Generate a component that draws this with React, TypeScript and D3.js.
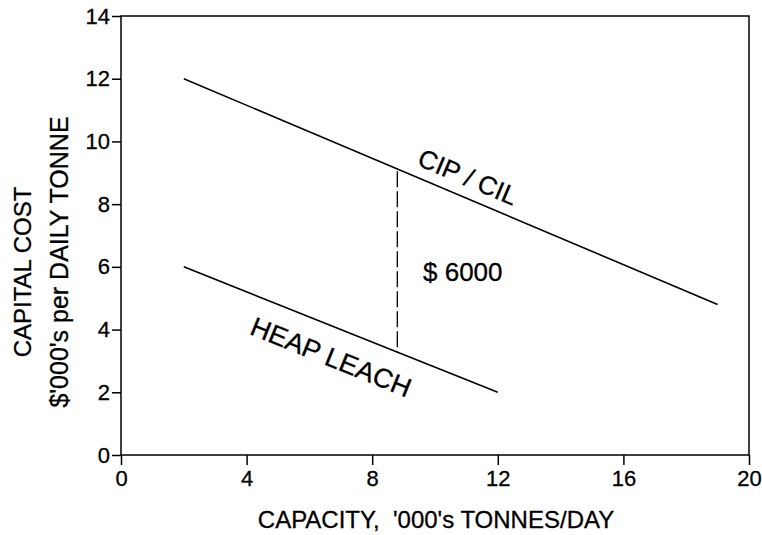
import { useEffect, useRef } from 'react';
import * as d3 from 'd3';

// capacity ('000 t/day) vs capital cost ($'000 per daily tonne)
const cipX = [2, 19];
const cipY = [12, 4.8];
const heapX = [2, 12];
const heapY = [6, 2];
const gapX = 8.8;
const gapY = [9.05, 3.25];
const xTicks = [0, 4, 8, 12, 16, 20];
const yTicks = [0, 2, 4, 6, 8, 10, 12, 14];

const FONT = "'Liberation Sans', Arial, sans-serif";

const App = () => {
    const graphRef = useRef<SVGSVGElement | null>(null);

    useEffect(() => {
        const svg = d3.select(graphRef.current);
        svg.selectAll('*').remove();

        const left = 121, right = 749, top = 16, bottom = 455;

        const x = d3.scaleLinear().domain([0, 20]).range([left, right]);
        const y = d3.scaleLinear().domain([0, 14]).range([bottom, top]);

        // frame
        svg.append('rect')
            .attr('x', left).attr('y', top)
            .attr('width', right - left).attr('height', bottom - top)
            .attr('fill', 'none').attr('stroke', '#000').attr('stroke-width', 1.5);

        const xAxis = svg.append('g')
            .attr('transform', `translate(0,${bottom})`)
            .call(d3.axisBottom(x).tickValues(xTicks).tickSize(10).tickPadding(5).tickSizeOuter(0));
        xAxis.select('.domain').remove();
        xAxis.selectAll('line').attr('stroke', '#000').attr('stroke-width', 1.5);
        xAxis.selectAll('text')
            .attr('fill', '#000')
            .attr('stroke', '#000').attr('stroke-width', 0.3)
            .style('font-family', FONT)
            .style('font-size', '22px');

        const yAxis = svg.append('g')
            .attr('transform', `translate(${left},0)`)
            .call(d3.axisLeft(y).tickValues(yTicks).tickSize(9).tickPadding(2).tickSizeOuter(0));
        yAxis.select('.domain').remove();
        yAxis.selectAll('line').attr('stroke', '#000').attr('stroke-width', 1.5);
        yAxis.selectAll('text')
            .attr('fill', '#000')
            .attr('stroke', '#000').attr('stroke-width', 0.3)
            .style('font-family', FONT)
            .style('font-size', '22px');

        const line = d3.line<[number, number]>()
            .x(d => x(d[0]))
            .y(d => y(d[1]));

        const cip = cipX.map((v, i) => [v, cipY[i]] as [number, number]);
        const heap = heapX.map((v, i) => [v, heapY[i]] as [number, number]);

        svg.append('path')
            .attr('d', line(cip))
            .attr('fill', 'none').attr('stroke', '#000').attr('stroke-width', 1.6);
        svg.append('path')
            .attr('d', line(heap))
            .attr('fill', 'none').attr('stroke', '#000').attr('stroke-width', 1.6);

        svg.append('line')
            .attr('x1', x(gapX)).attr('x2', x(gapX))
            .attr('y1', y(gapY[0])).attr('y2', y(gapY[1]))
            .attr('stroke', '#000').attr('stroke-width', 1.3)
            .attr('stroke-dasharray', '16,4');

        const label = (t: string, size: number) =>
            svg.append('text')
                .style('font-family', FONT).style('font-size', `${size}px`)
                .attr('fill', '#000')
                .attr('stroke', '#000').attr('stroke-width', 0.3)
                .text(t);

        label('$ 6000', 26).attr('x', 423).attr('y', 281);

        label('CIP / CIL', 26)
            .attr('transform', 'translate(468,177) rotate(23)')
            .attr('text-anchor', 'middle').attr('dy', '0.35em');

        label('HEAP LEACH', 27)
            .attr('transform', 'translate(331,357) rotate(22)')
            .attr('text-anchor', 'middle').attr('dy', '0.35em');

        label("CAPACITY,  '000's TONNES/DAY", 24)
            .attr('x', 436).attr('y', 528)
            .attr('text-anchor', 'middle')
            .style('white-space', 'pre');

        label('CAPITAL COST', 24)
            .attr('transform', 'translate(31,272) rotate(-90)')
            .attr('text-anchor', 'middle');

        label("$'000's per DAILY TONNE", 25)
            .attr('transform', 'translate(68,262) rotate(-90)')
            .attr('text-anchor', 'middle');
    }, []);

    return (
        <svg
            ref={graphRef}
            width={762}
            height={535}
            style={{ position: 'absolute', left: 0, top: 0, background: '#fff' }}
        />
    );
};

export default App;
